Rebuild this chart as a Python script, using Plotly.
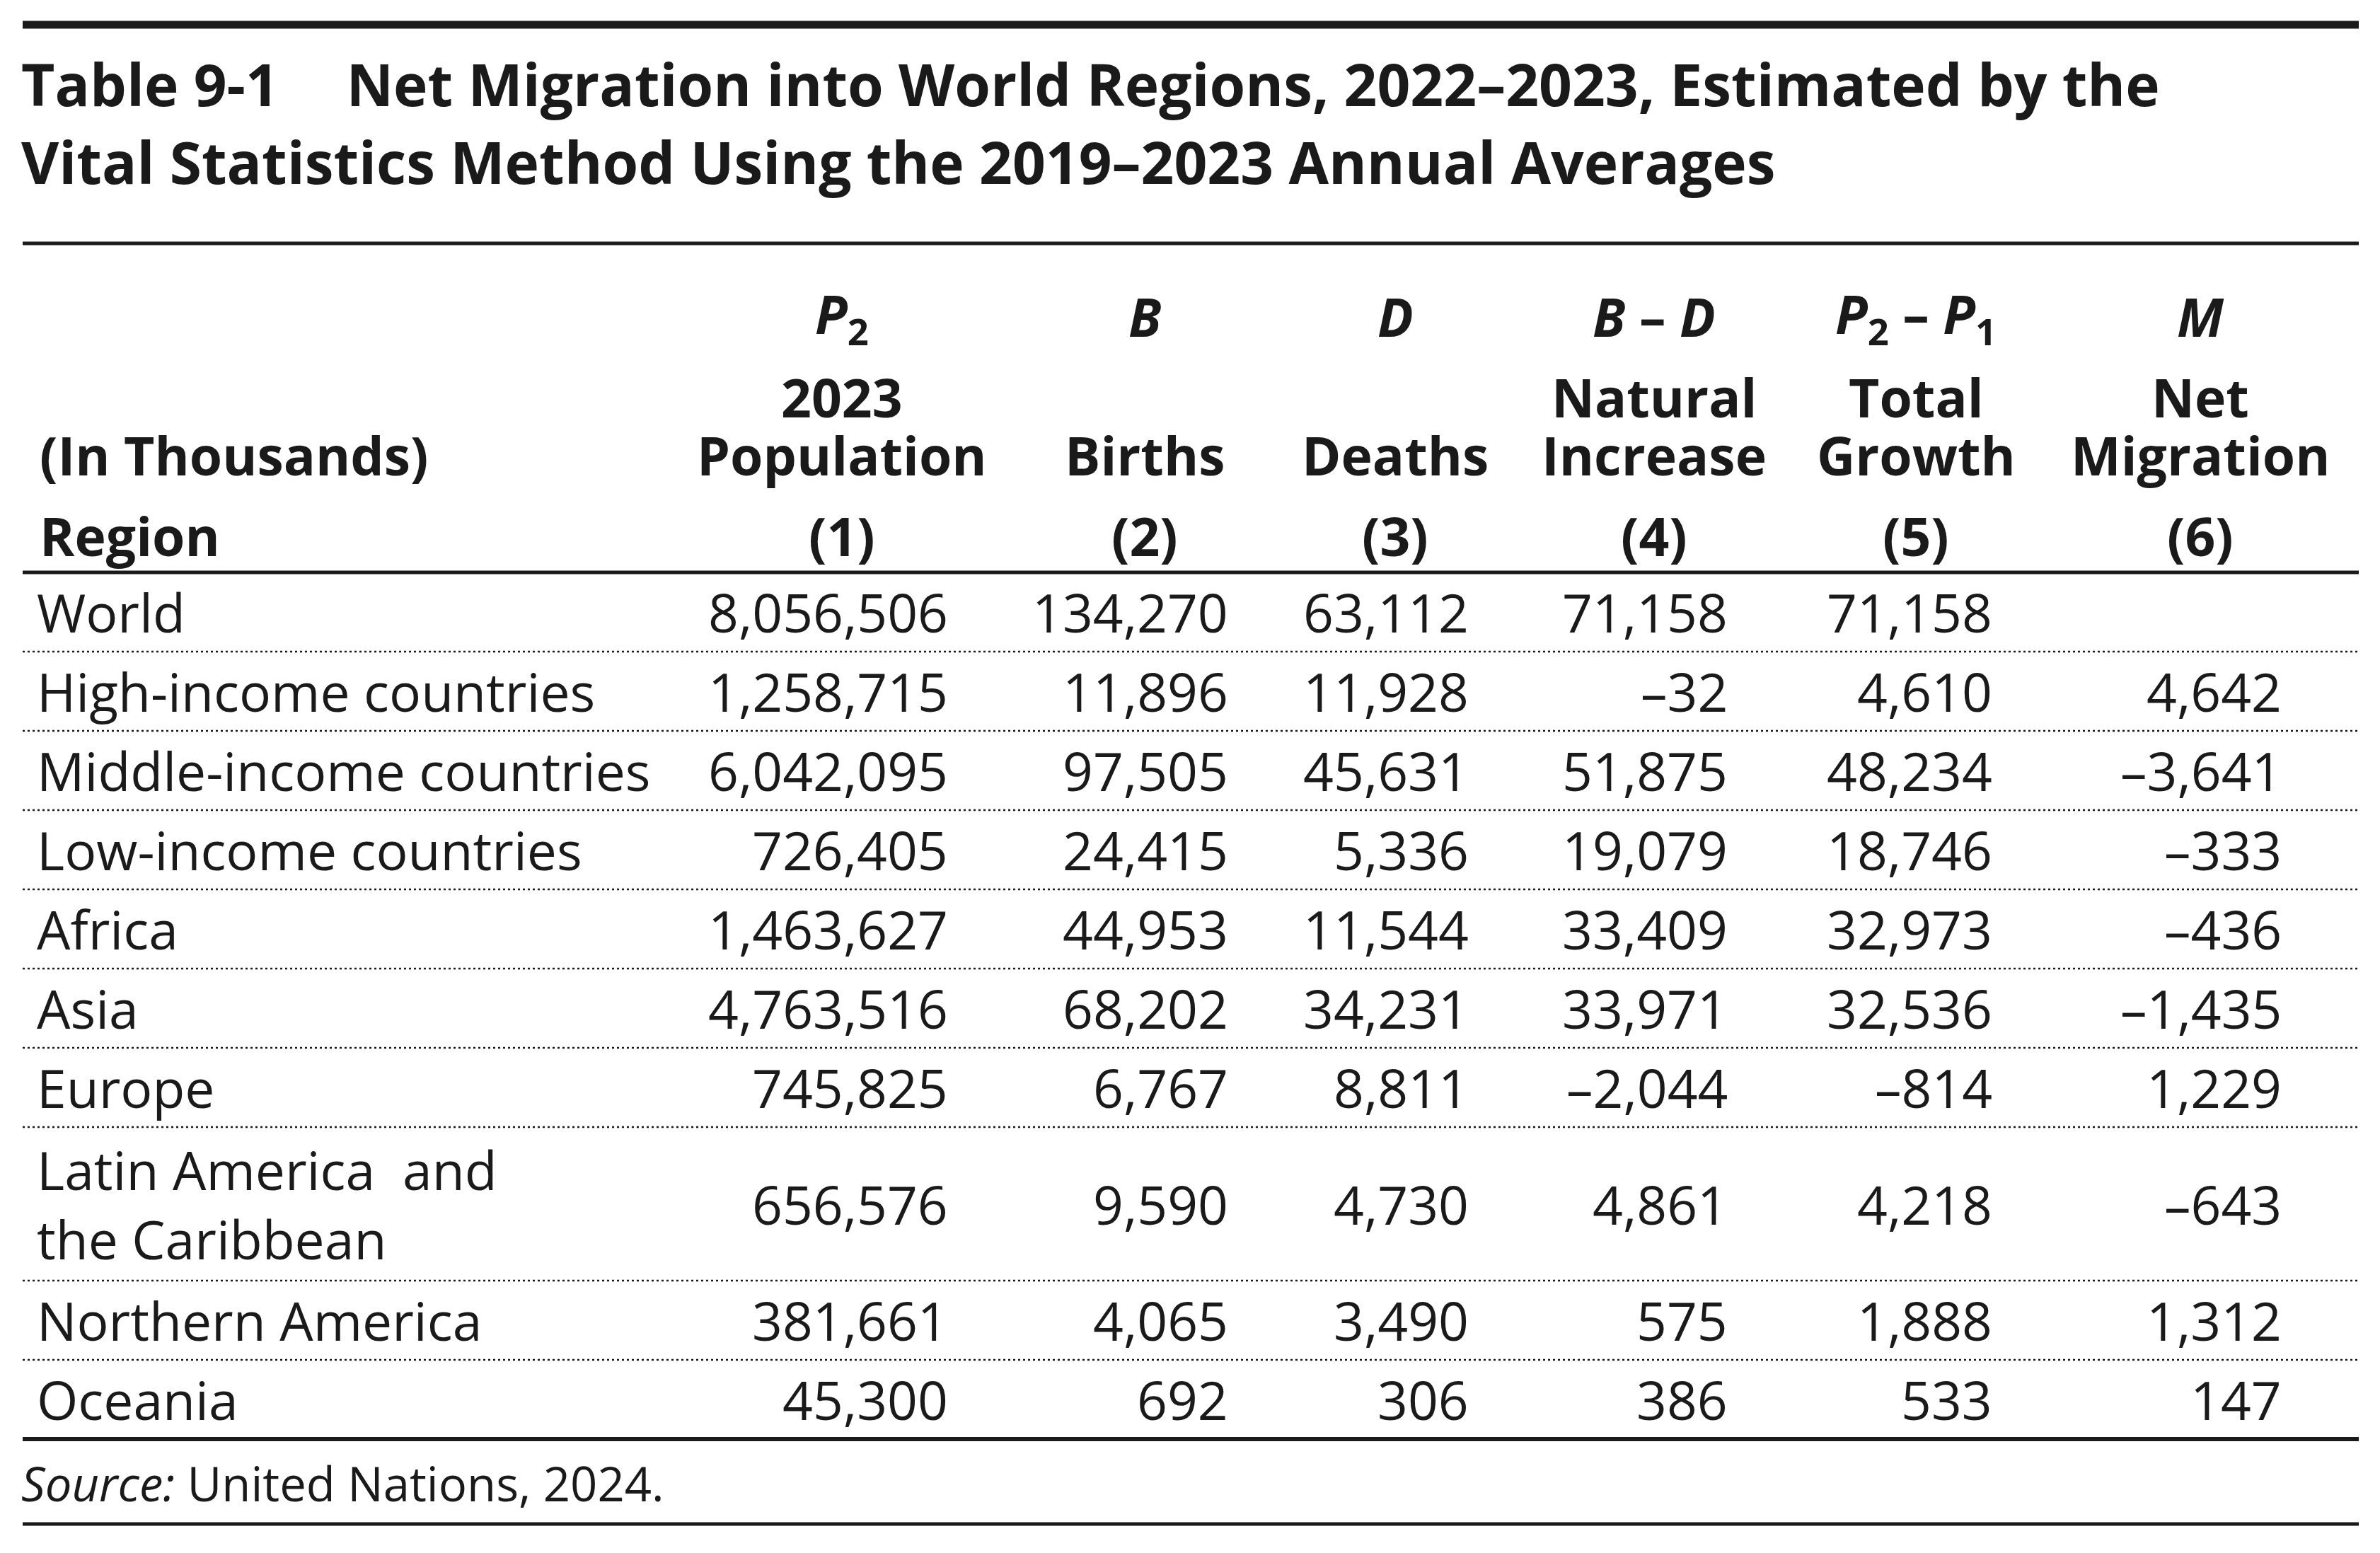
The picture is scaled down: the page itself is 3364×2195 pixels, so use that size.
import plotly.graph_objects as go

W, H = 3364, 2195

# ---- table content ----
title_lines = [
    "Table 9-1\u2003\u2009Net Migration into World Regions, 2022\u20132023, Estimated by the",
    "Vital Statistics Method Using the 2019\u20132023 Annual Averages",
]
symbols = [
    "<i>P</i><sub>2</sub>",
    "<i>B</i>",
    "<i>D</i>",
    "<i>B</i> \u2013 <i>D</i>",
    "<i>P</i><sub>2</sub> \u2013 <i>P</i><sub>1</sub>",
    "<i>M</i>",
]
head_top = ["2023", "", "", "Natural", "Total", "Net"]
head_bottom = ["Population", "Births", "Deaths", "Increase", "Growth", "Migration"]
col_numbers = ["(1)", "(2)", "(3)", "(4)", "(5)", "(6)"]
stub_head = ["(In Thousands)", "Region"]

regions = [
    "World",
    "High-income countries",
    "Middle-income countries",
    "Low-income countries",
    "Africa",
    "Asia",
    "Europe",
    "Latin America  and<br>the Caribbean",
    "Northern America",
    "Oceania",
]
population = [8056506, 1258715, 6042095, 726405, 1463627, 4763516, 745825, 656576, 381661, 45300]
births = [134270, 11896, 97505, 24415, 44953, 68202, 6767, 9590, 4065, 692]
deaths = [63112, 11928, 45631, 5336, 11544, 34231, 8811, 4730, 3490, 306]
natural_increase = [71158, -32, 51875, 19079, 33409, 33971, -2044, 4861, 575, 386]
total_growth = [71158, 4610, 48234, 18746, 32973, 32536, -814, 4218, 1888, 533]
net_migration = [None, 4642, -3641, -333, -436, -1435, 1229, -643, 1312, 147]

source_note = "<i>Source:</i> United Nations, 2024."

columns = [population, births, deaths, natural_increase, total_growth, net_migration]

# ---- layout settings ----
FONT = "Open Sans"
INK = "#1a1a1a"
OFFSET = 8  # page body margin
LEFT, RIGHT = 32, 3334
STUB_X = 54
col_right = [1342, 1738, 2078, 2444, 2818, 3227]
col_center = [1190, 1618, 1972, 2338, 2708, 3110]
ROW_H = 112
LINE_H = 105
HEADER_RULE = 809
TITLE_SIZE = 82
HEAD_SIZE = 75
BODY_SIZE = 75


def fmt(v):
    if v is None:
        return ""
    s = f"{abs(v):,}"
    return ("\u2013" + s) if v < 0 else s


fig = go.Figure()
annotations = []
shapes = []


def text(x, y, s, size, anchor="left", weight=400):
    if not s:
        return
    annotations.append(dict(
        x=x, y=y, xref="x", yref="y", text=s, showarrow=False,
        xanchor=anchor, yanchor="middle", align=anchor,
        font=dict(family=FONT, size=size, color=INK, weight=weight),
    ))


def rule(y, width, dash="solid"):
    shapes.append(dict(
        type="line", xref="x", yref="y", x0=LEFT, x1=RIGHT, y0=y, y1=y,
        line=dict(color=INK, width=width, dash=dash),
    ))


# title block
rule(35, 11)
text(LEFT - 4, 118, title_lines[0], TITLE_SIZE, weight=700)
text(LEFT - 4, 228, title_lines[1], TITLE_SIZE, weight=700)
rule(344, 5)

# column heads
text(STUB_X, 643, stub_head[0], HEAD_SIZE, weight=700)
text(STUB_X, 757, stub_head[1], HEAD_SIZE, weight=700)
for i in range(6):
    text(col_center[i], 447, symbols[i], HEAD_SIZE, "center", 700)
    text(col_center[i], 561, head_top[i], HEAD_SIZE, "center", 700)
    text(col_center[i], 643, head_bottom[i], HEAD_SIZE, "center", 700)
    text(col_center[i], 757, col_numbers[i], HEAD_SIZE, "center", 700)
rule(HEADER_RULE, 5)

# body rows
y = HEADER_RULE
for r, name in enumerate(regions):
    n_lines = name.count("<br>") + 1
    h = ROW_H + (n_lines - 1) * LINE_H
    yc = y + h / 2
    text(STUB_X - 4, yc, name, BODY_SIZE)
    for c, col in enumerate(columns):
        text(col_right[c], yc, fmt(col[r]), BODY_SIZE, "right")
    y += h
    if r < len(regions) - 1:
        rule(y, 2.5, "3px,4px")
    else:
        rule(y, 6)

# source note
text(LEFT - 4, y + 62, source_note, 67)
rule(y + 120, 5)

fig.update_layout(
    width=W, height=H,
    margin=dict(l=0, r=0, t=0, b=0),
    paper_bgcolor="white", plot_bgcolor="white",
    xaxis=dict(range=[OFFSET, W + OFFSET], visible=False, fixedrange=True),
    yaxis=dict(range=[H + OFFSET, OFFSET], visible=False, fixedrange=True),
    annotations=annotations,
    shapes=shapes,
    showlegend=False,
)

fig.write_html("out.html")
